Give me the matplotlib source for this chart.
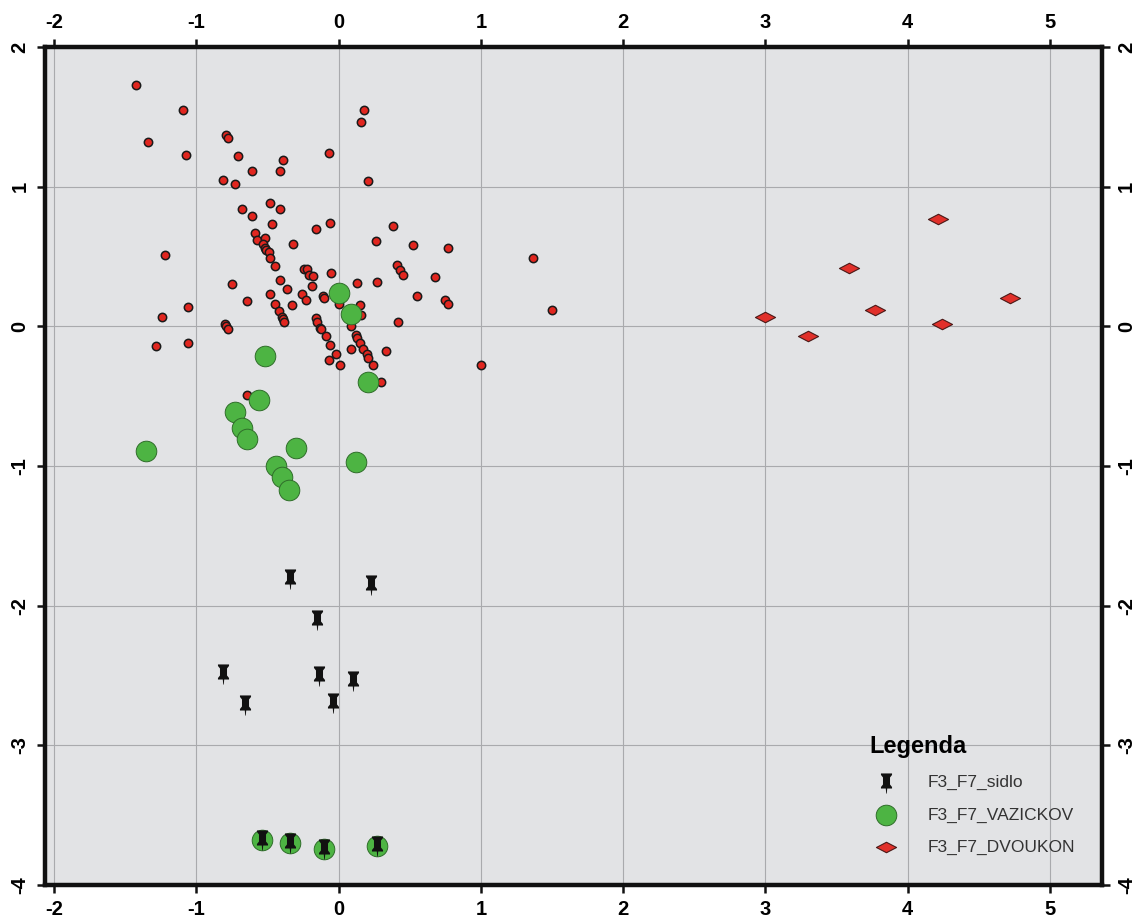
import numpy as np
import matplotlib
matplotlib.use("Agg")
import matplotlib.pyplot as plt
from matplotlib.path import Path

plt.rcParams['font.family'] = ['Liberation Sans', 'DejaVu Sans']
plt.rcParams['axes.unicode_minus'] = False

# F3_F7 scores
red_x = [-1.42, -1.09, -1.34, -1.07, -0.79, -0.78, -0.71, -0.61, -0.39, -0.41,
         -0.07, 0.18, 0.16, -0.81, -0.73, 0.21, -0.68, -0.61, -0.48, -0.41,
         -0.47, -0.59, -0.57, -0.52, -0.53, -0.52, -0.51, -0.49, -0.48, -0.45,
         -0.41, -0.36, -0.32, -0.16, -0.06, 0.38, 0.26, -1.22, -0.24, -0.22,
         -0.21, -0.18, -0.05, -0.19, 0.13, 0.27, 0.41, 0.43, 0.45, -0.75,
         -0.64, -0.48, -0.45, -0.33, -0.26, -0.23, -0.11, -0.10, 0.00, 0.15,
         0.16, -0.42, -0.40, -0.39, -0.38, -1.06, -1.24, -0.80, -0.79, -0.78,
         -1.28, -1.06, -0.16, -0.15, -0.13, -0.12, -0.09, -0.06, -0.02, -0.07,
         0.01, 0.09, 0.09, 0.12, 0.13, 0.15, 0.17, 0.20, 0.21, 0.24,
         0.33, 0.42, 0.52, 0.77, 0.68, 0.55, 0.75, 0.77, 1.37, 1.50,
         1.00, 0.30, -0.64]
red_y = [1.73, 1.55, 1.32, 1.23, 1.37, 1.35, 1.22, 1.11, 1.19, 1.11,
         1.24, 1.55, 1.46, 1.05, 1.02, 1.04, 0.84, 0.79, 0.88, 0.84,
         0.73, 0.67, 0.62, 0.63, 0.59, 0.56, 0.55, 0.53, 0.49, 0.43,
         0.33, 0.27, 0.59, 0.70, 0.74, 0.72, 0.61, 0.51, 0.41, 0.41,
         0.37, 0.36, 0.38, 0.29, 0.31, 0.32, 0.44, 0.40, 0.37, 0.30,
         0.18, 0.23, 0.16, 0.15, 0.23, 0.19, 0.22, 0.20, 0.16, 0.15,
         0.08, 0.11, 0.07, 0.05, 0.03, 0.14, 0.07, 0.02, 0.00, -0.02,
         -0.14, -0.12, 0.06, 0.03, -0.01, -0.02, -0.07, -0.13, -0.20, -0.24,
         -0.28, 0.00, -0.16, -0.06, -0.08, -0.12, -0.16, -0.20, -0.23, -0.28,
         -0.18, 0.03, 0.58, 0.56, 0.35, 0.22, 0.19, 0.16, 0.49, 0.12,
         -0.28, -0.40, -0.49]

vaz_x = [0.00, 0.09, -0.52, 0.21, -0.56, -0.73, -0.68, -0.64, -1.35, -0.30,
         0.12, -0.44, -0.40, -0.35, -0.54, -0.34, -0.10, 0.27]
vaz_y = [0.24, 0.09, -0.21, -0.40, -0.53, -0.61, -0.73, -0.81, -0.89, -0.87,
         -0.97, -1.00, -1.08, -1.17, -3.68, -3.70, -3.74, -3.72]

sid_x = [-0.34, 0.23, -0.15, -0.81, -0.14, 0.10, -0.66, -0.04, -0.54, -0.34, -0.10, 0.27]
sid_y = [-1.81, -1.85, -2.10, -2.49, -2.50, -2.54, -2.71, -2.70, -3.68, -3.70, -3.74, -3.72]

dvo_x = [3.00, 3.30, 3.59, 3.77, 4.21, 4.24, 4.72]
dvo_y = [0.07, -0.07, 0.42, 0.12, 0.77, 0.02, 0.20]

labels = ['F3_F7_sidlo', 'F3_F7_VAZICKOV', 'F3_F7_DVOUKON']

# pushpin marker (head like a spool + needle)
M, L, C = Path.MOVETO, Path.LINETO, Path.CLOSEPOLY
pin_verts = [(-5.5, 10), (5.5, 10), (5.5, 8.5), (3.5, 6), (3.5, -1), (5.5, -3.5),
             (5.5, -5), (-5.5, -5), (-5.5, -3.5), (-3.5, -1), (-3.5, 6), (-5.5, 8.5), (0, 0),
             (-0.7, -5), (0.7, -5), (0.3, -10), (-0.3, -10), (0, 0)]
pin_codes = [M] + [L] * 11 + [C] + [M, L, L, L, C]
pin = Path(pin_verts, pin_codes)

# flat diamond
diamond = Path([(-1, 0), (0, 0.52), (1, 0), (0, -0.52), (0, 0)], [M, L, L, L, C])

fig = plt.figure(figsize=(11.48, 9.24), dpi=100)
ax = fig.add_axes([0.0392, 0.0422, 0.9207, 0.9069])
ax.set_facecolor('#e2e3e5')

ax.scatter(red_x, red_y, s=36, c='#e1261f', edgecolors='#1a1a1a', linewidths=1.1, zorder=3)
ax.scatter(vaz_x, vaz_y, s=220, c='#4db443', edgecolors='#2f6e2a', linewidths=0.7, zorder=4,
           label=labels[1])
ax.scatter(sid_x, sid_y, s=210, marker=pin, c='#111111', linewidths=0, zorder=5,
           label=labels[0])
ax.scatter(dvo_x, dvo_y, s=210, marker=diamond, c='#e1302a', edgecolors='#4a1a18',
           linewidths=0.8, zorder=4, label=labels[2])

ax.set_xlim(-2.063, 5.365)
ax.set_ylim(-4, 2)
ax.set_xticks(np.arange(-2, 6))
ax.set_yticks(np.arange(-4, 3))
ax.grid(True, color='#a9aaad', linewidth=0.8)
ax.set_axisbelow(True)

for sp in ax.spines.values():
    sp.set_linewidth(3.2)
    sp.set_color('#111111')

ax.tick_params(which='both', direction='out', length=6, width=1.8, color='#111111',
               top=True, right=True, labeltop=True, labelright=True,
               labelsize=14.5, pad=5)
ax.tick_params(axis='y', labelrotation=90)
for t in ax.get_xticklabels() + ax.get_yticklabels():
    t.set_fontweight('bold')
for t in ax.get_yticklabels():
    t.set_va('center')

handles, labs = ax.get_legend_handles_labels()
order = [labs.index(l) for l in labels]
leg = ax.legend([handles[i] for i in order], [labs[i] for i in order],
                title='Legenda', loc='upper left', bbox_to_anchor=(0.773, 0.187),
                frameon=False, fontsize=12.5, labelspacing=0.97, handletextpad=1.4,
                markerscale=1.0, alignment='left', borderaxespad=0)
leg.get_title().set_fontweight('bold')
leg.get_title().set_fontsize(17)
for t in leg.get_texts():
    t.set_color('#333333')

fig.savefig('out.png', dpi=100)
